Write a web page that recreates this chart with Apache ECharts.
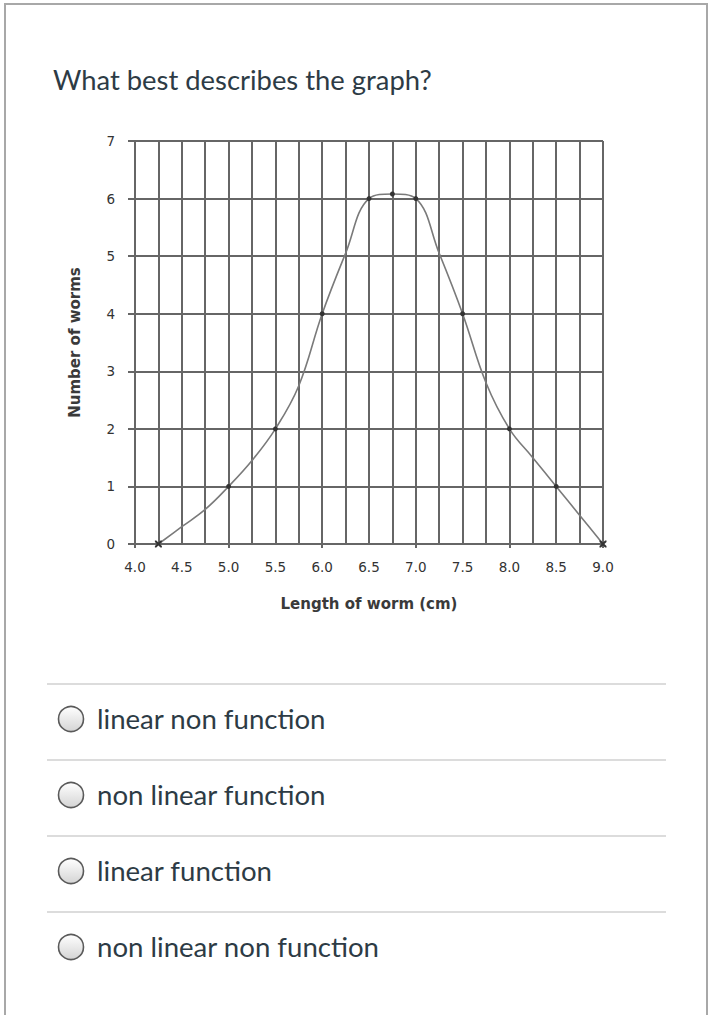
<!DOCTYPE html>
<html>
<head>
<meta charset="utf-8">
<script src="https://cdn.jsdelivr.net/npm/echarts@6/dist/echarts.min.js"></script>
<style>
html,body{margin:0;padding:0;background:#fff;}
#chart{width:709px;height:1015px;}
</style>
</head>
<body>
<div id="chart"></div>
<script>
// ---- data ----
const lengths = [4.25, 4.5, 4.75, 5.0, 5.25, 5.5, 5.75, 6.0, 6.25, 6.5, 6.75, 7.0, 7.25, 7.5, 7.75, 8.0, 8.25, 8.5, 8.75, 9.0];
const worms   = [0,    0.3, 0.6, 1,   1.45, 2,   2.75, 4,   5.05, 6,   6.08, 6,   5.05, 4,   2.8,  2,   1.5,  1,   0.5,  0];
const markers = ['x', '', '', 'dot', '', 'dot', '', 'dot', '', 'dot', 'dot', 'dot', '', 'dot', '', 'dot', '', 'dot', '', 'x'];
const xTickLabels = ['4.0','4.5','5.0','5.5','6.0','6.5','7.0','7.5','8.0','8.5','9.0'];
const yTickLabels = ['0','1','2','3','4','5','6','7'];
const question = 'What best describes the graph?';
const answers = ['linear non function', 'non linear function', 'linear function', 'non linear non function'];
const xName = 'Length of worm (cm)';
const yName = 'Number of worms';

const crossPath = 'path://M0,0L2,0L5,3L8,0L10,0L10,2L7,5L10,8L10,10L8,10L5,7L2,10L0,10L0,8L3,5L0,2Z';

const seriesData = lengths.map((x, i) => {
  const item = { value: [x, worms[i]] };
  if (markers[i] === 'x') { item.symbol = crossPath; item.symbolSize = 7; }
  else if (markers[i] === 'dot') { item.symbol = 'circle'; item.symbolSize = 5; }
  else { item.symbol = 'none'; }
  return item;
});

const gridColor = '#666';
const labelFont = { fontFamily: 'DejaVu Sans', fontSize: 13.5, color: '#333' };
const nameFont = { fontFamily: 'DejaVu Sans', fontWeight: 'bold', fontSize: 15, color: '#3a3a3a' };

const graphics = [
  { type: 'rect', shape: { x: 5, y: 4, width: 702, height: 1030 },
    style: { fill: 'none', stroke: '#a8a8a8', lineWidth: 2 }, silent: true },
  { type: 'text', x: 53, y: 79,
    style: { text: question, font: '27.4px Lato', fill: '#2d3b45', verticalAlign: 'middle' } }
];
const sepY = [684, 760, 836, 912];
sepY.forEach(y => {
  graphics.push({ type: 'line', shape: { x1: 47, y1: y, x2: 666, y2: y },
    style: { stroke: '#dcdcdc', lineWidth: 2 } });
});
answers.forEach((a, i) => {
  const cy = sepY[i] + 35;
  graphics.push({ type: 'circle', shape: { cx: 71, cy: cy, r: 12.5 },
    style: { fill: new echarts.graphic.LinearGradient(0, 0, 0, 1, [
      { offset: 0, color: '#ffffff' }, { offset: 1, color: '#d4d4d4' }]),
      stroke: '#5a5a5a', lineWidth: 1.6 } });
  graphics.push({ type: 'text', x: 97, y: cy - 1,
    style: { text: a, font: '27.6px Lato', fill: '#2d3b45', verticalAlign: 'middle' } });
});

const chart = echarts.init(document.getElementById('chart'), null, { renderer: 'svg' });
chart.setOption({
  animation: false,
  backgroundColor: '#fff',
  grid: { left: 135, top: 141, width: 468, height: 403, containLabel: false },
  xAxis: [{
    type: 'value', min: 4, max: 9, interval: 0.25,
    name: xName, nameLocation: 'middle', nameGap: 52,
    nameTextStyle: nameFont,
    axisLine: { show: true, lineStyle: { color: gridColor, width: 2 } },
    axisTick: { show: false },
    axisLabel: Object.assign({ margin: 16,
      formatter: v => {
        const s = v.toFixed(1);
        return (Math.abs(v * 2 - Math.round(v * 2)) < 1e-6 && xTickLabels.indexOf(s) >= 0) ? s : '';
      } }, labelFont),
    splitLine: { show: true, lineStyle: { color: gridColor, width: 2 } }
  }, {
    type: 'value', min: 4, max: 9, interval: 1, position: 'bottom',
    axisLine: { show: false },
    axisTick: { show: true, length: 4, lineStyle: { color: gridColor, width: 2 } },
    axisLabel: { show: false },
    splitLine: { show: false }
  }],
  yAxis: {
    type: 'value', min: 0, max: 7, interval: 1,
    name: yName, nameLocation: 'middle', nameGap: 53,
    nameTextStyle: nameFont,
    axisLine: { show: true, lineStyle: { color: gridColor, width: 2 } },
    axisTick: { show: true, length: 7, lineStyle: { color: gridColor, width: 2 } },
    axisLabel: Object.assign({ margin: 20, formatter: v => yTickLabels[Math.round(v)] }, labelFont),
    splitLine: { show: true, lineStyle: { color: gridColor, width: 2 } }
  },
  series: [{
    type: 'line',
    xAxisIndex: 0,
    data: seriesData,
    smooth: 0.4,
    showSymbol: true,
    lineStyle: { color: '#7a7a7a', width: 1.6 },
    itemStyle: { color: '#333' },
    z: 5
  }],
  graphic: graphics
});
</script>
</body>
</html>
